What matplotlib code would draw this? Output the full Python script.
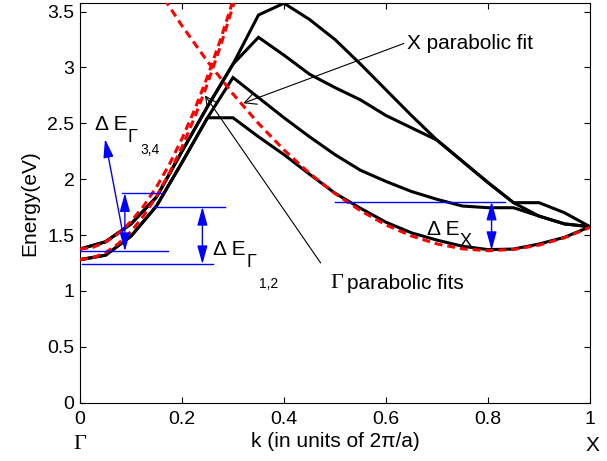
import matplotlib
matplotlib.use("Agg")
import matplotlib.pyplot as plt

plt.rcParams['font.family'] = ['Liberation Sans', 'DejaVu Sans']

# ---- data ----
k = [0, 0.05, 0.1, 0.15, 0.2, 0.25, 0.3, 0.35, 0.4, 0.45, 0.5,
     0.55, 0.6, 0.65, 0.7, 0.75, 0.8, 0.85, 0.9, 0.95, 1.0]
band1 = [1.28, 1.32, 1.49, 1.76, 2.15, 2.55, 2.55, 2.38, 2.22, 2.045, 1.875,
         1.74, 1.615, 1.52, 1.455, 1.40, 1.37, 1.375, 1.42, 1.48, 1.575]
band2 = [1.28, 1.32, 1.49, 1.76, 2.15, 2.55, 2.91, 2.73, 2.55, 2.38, 2.22,
         2.08, 1.98, 1.89, 1.82, 1.76, 1.745, 1.745, 1.67, 1.60, 1.575]
band3 = [1.375, 1.44, 1.60, 1.84, 2.25, 2.65, 3.03, 3.27, 3.11, 2.94, 2.82,
         2.71, 2.57, 2.46, 2.35, 2.16, 1.97, 1.79, 1.67, 1.60, 1.575]
band4 = [1.375, 1.44, 1.60, 1.84, 2.25, 2.65, 3.03, 3.47, 3.575, 3.43, 3.25,
         3.03, 2.80, 2.57, 2.35, 2.16, 1.97, 1.79, 1.79, 1.70, 1.575]

# parabolic fits
k_fitG = [0, 0.025, 0.05, 0.075, 0.1, 0.125, 0.15, 0.175, 0.2, 0.225, 0.25, 0.275, 0.3, 0.31]
fitG_low = [1.28, 1.296, 1.343, 1.422, 1.532, 1.674, 1.847, 2.052, 2.288, 2.556, 2.855, 3.186, 3.548, 3.70]
fitG_up = [1.375, 1.390, 1.437, 1.514, 1.622, 1.761, 1.931, 2.131, 2.363, 2.625, 2.919, 3.243, 3.598, 3.75]
k_fitX = [0.15, 0.2, 0.25, 0.3, 0.35, 0.4, 0.45, 0.5, 0.55, 0.6, 0.65,
          0.7, 0.75, 0.8, 0.85, 0.9, 0.95, 1.0]
fitX = [3.72, 3.373, 3.054, 2.763, 2.499, 2.262, 2.053, 1.872, 1.718, 1.591, 1.492,
        1.421, 1.377, 1.360, 1.371, 1.410, 1.476, 1.569]

xticks = [0, 0.2, 0.4, 0.6, 0.8, 1.0]
xticklabels = ['0', '0.2', '0.4', '0.6', '0.8', '1']
yticks = [0, 0.5, 1, 1.5, 2, 2.5, 3, 3.5]
yticklabels = ['0', '0.5', '1', '1.5', '2', '2.5', '3', '3.5']

# energy-gap marker lines
dG12_low, dG12_high = 1.239, 1.753
dG34_low, dG34_high = 1.355, 1.876
dX_low, dX_high = 1.365, 1.80

fig = plt.figure(figsize=(6.07, 4.61), dpi=100)
ax = fig.add_axes([0.1318, 0.1265, 0.8402, 0.8677])

for b in (band1, band2, band3, band4):
    ax.plot(k, b, color='black', lw=2.2, solid_joinstyle='miter', zorder=2)

dash = (0, (2.6, 1.6))
ax.plot(k_fitG, fitG_low, color='red', lw=2.2, linestyle=dash, zorder=3)
ax.plot(k_fitG, fitG_up, color='red', lw=2.2, linestyle=dash, zorder=3)
ax.plot(k_fitX, fitX, color='red', lw=2.2, linestyle=dash, zorder=3)

blue = '#0000ff'
# horizontal marker lines
ax.plot([0.004, 0.26], [dG12_low, dG12_low], color=blue, lw=1, zorder=4)
ax.plot([0.143, 0.284], [dG12_high, dG12_high], color=blue, lw=1, zorder=4)
ax.plot([0.0, 0.173], [dG34_low, dG34_low], color=blue, lw=1, zorder=4)
ax.plot([0.082, 0.16], [dG34_high, dG34_high], color=blue, lw=1, zorder=4)
ax.plot([0.5, 0.833], [dX_high, dX_high], color=blue, lw=1, zorder=4)

arr = dict(arrowstyle='<|-|>,head_length=0.8,head_width=0.22', color=blue, lw=1,
           shrinkA=0, shrinkB=0, mutation_scale=14)
ax.annotate('', xy=(0.24, dG12_high), xytext=(0.24, dG12_low), arrowprops=arr, zorder=5)
ax.annotate('', xy=(0.088, dG34_high), xytext=(0.088, dG34_low), arrowprops=arr, zorder=5)
ax.annotate('', xy=(0.807, dX_high), xytext=(0.807, dX_low), arrowprops=arr, zorder=5)
ax.annotate('', xy=(0.049, 2.36), xytext=(0.088, 1.42),
            arrowprops=dict(arrowstyle='-|>,head_length=0.8,head_width=0.22', color=blue, lw=1,
                            shrinkA=0, shrinkB=0, mutation_scale=14), zorder=5)

fs_lab = 15
fs_sub = 13
fs_sub2 = 10
# Delta E Gamma 3,4
ax.text(0.0294, 2.44, 'Δ E', fontsize=fs_lab, ha='left', va='baseline')
ax.text(0.094, 2.33, 'Γ', fontsize=fs_sub, ha='left', va='baseline')
ax.text(0.118, 2.23, '3,4', fontsize=fs_sub2, ha='left', va='baseline')
# Delta E Gamma 1,2
ax.text(0.261, 1.32, 'Δ E', fontsize=fs_lab, ha='left', va='baseline')
ax.text(0.327, 1.215, 'Γ', fontsize=fs_sub, ha='left', va='baseline')
ax.text(0.350, 1.03, '1,2', fontsize=fs_sub2, ha='left', va='baseline')
# Delta E X
ax.text(0.680, 1.50, 'Δ E', fontsize=fs_lab, ha='left', va='baseline')
ax.text(0.745, 1.40, 'X', fontsize=fs_sub, ha='left', va='baseline')

# fit annotations
ax.annotate('', xy=(0.32, 2.68), xytext=(0.635, 3.215),
            arrowprops=dict(arrowstyle='->,head_length=0.6,head_width=0.3', color='black', lw=0.8,
                            shrinkA=0, shrinkB=0, mutation_scale=14), zorder=5)
ax.text(0.641, 3.215, 'X parabolic fit', fontsize=fs_lab, ha='left', va='center')
ax.annotate('', xy=(0.245, 2.75), xytext=(0.472, 1.25),
            arrowprops=dict(arrowstyle='->,head_length=0.6,head_width=0.3', color='black', lw=0.8,
                            shrinkA=0, shrinkB=0, mutation_scale=14), zorder=5)
ax.text(0.49, 1.07, 'Γ', fontsize=16, family='Liberation Serif', ha='left', va='center')
ax.text(0.524, 1.07, 'parabolic fits', fontsize=fs_lab, ha='left', va='center')

ax.set_xlim(0, 1)
ax.set_ylim(0, 3.58)
ax.set_xticks(xticks)
ax.set_xticklabels(xticklabels)
ax.set_yticks(yticks)
ax.set_yticklabels(yticklabels)
ax.tick_params(direction='in', top=True, right=True, length=4, width=0.8, labelsize=14)
ax.tick_params(axis='x', pad=6)
ax.tick_params(axis='y', pad=4)
for s in ax.spines.values():
    s.set_linewidth(0.8)

ax.set_xlabel('k (in units of 2π/a)', fontsize=15, labelpad=3)
ax.set_ylabel('Energy(eV)', fontsize=15, labelpad=6)
ax.text(0.0, -0.105, 'Γ', transform=ax.get_xaxis_transform(), fontsize=16,
        family='Liberation Serif', ha='center', va='center')
ax.text(1.005, -0.107, 'X', transform=ax.get_xaxis_transform(), fontsize=15,
        ha='center', va='center')

fig.savefig('out.png', dpi=100)
